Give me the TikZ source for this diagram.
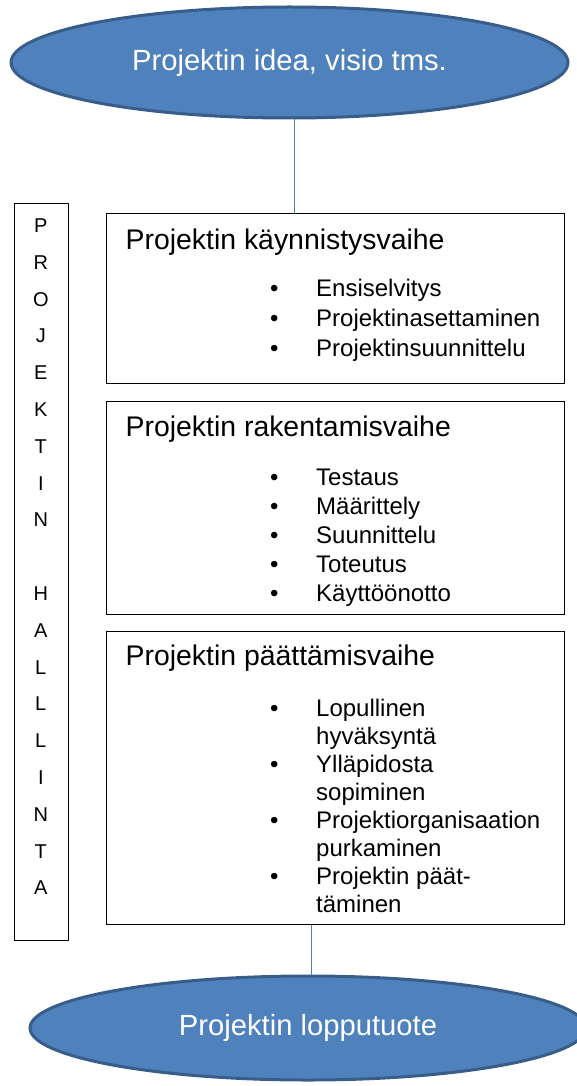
\documentclass[tikz,border=0pt]{standalone}
\usepackage{fontspec}
\setmainfont{Liberation Sans}
\usepackage{xcolor}
\usepackage{tikz}
\usetikzlibrary{shapes}

\definecolor{ovalfill}{HTML}{4F81BD}
\definecolor{ovalline}{HTML}{385D8A}

\newcommand{\bul}{\textbullet}

\begin{document}
\begin{tikzpicture}[x=1pt,y=-1pt,
	oval/.style={ellipse, fill=ovalfill, draw=ovalline, line width=3pt, text=white, inner sep=0pt, font=\fontsize{29.2}{35}\selectfont},
	phase/.style={draw, line width=0.9pt, minimum width=458pt, inner sep=0pt, anchor=north west},
	phasetitle/.style={anchor=base west, inner sep=0pt, font=\fontsize{28.4}{34}\selectfont},
	tasks/.style={anchor=base west, inner sep=0pt},
	link/.style={draw=ovalfill, line width=1pt},
	letter/.style={anchor=base, inner sep=0pt, font=\fontsize{20}{24}\selectfont}]
	\useasboundingbox (0,0) rectangle (576,1086);

	% idea and end product
	\node[oval, minimum width=557pt, minimum height=111pt] (idea) at (289.5,62.5) {Projektin idea, visio tms.};
	\node[oval, minimum width=556pt, minimum height=104pt] (lop) at (308,1028) {Projektin lopputuote};

	% project management column
	\node[draw, line width=0.9pt, minimum width=54.4pt, minimum height=737pt, inner sep=0pt, anchor=north west] (hallinta) at (13.6,203) {};
	\foreach \ch [count=\i from 0] in {P,R,O,J,E,K,T,I,N}
		\node[letter] (p\i) at (40.8,{232.5+36.8*\i}) {\ch};
	\foreach \ch [count=\i from 10] in {H,A,L,L,L,I,N,T,A}
		\node[letter] (h\i) at (40.8,{232.5+36.8*\i}) {\ch};

	% phases
	\node[phase, minimum height=170pt] (kayn) at (106,213) {};
	\node[phasetitle] (kaynt) at (125.5,249) {Projektin käynnistysvaihe};
	\node[tasks, font=\fontsize{24}{30}\selectfont] (kaynl) at (270,296) {\begin{tabular}[t]{@{}p{46pt}@{}l@{}}
		\bul & Ensiselvitys\\
		\bul & Projektinasettaminen\\
		\bul & Projektinsuunnittelu
	\end{tabular}};

	\node[phase, minimum height=213pt] (rak) at (106,401) {};
	\node[phasetitle] (rakt) at (125.5,436.5) {Projektin rakentamisvaihe};
	\node[tasks, font=\fontsize{24}{29}\selectfont] (rakl) at (270,485) {\begin{tabular}[t]{@{}p{46pt}@{}l@{}}
		\bul & Testaus\\
		\bul & Määrittely\\
		\bul & Suunnittelu\\
		\bul & Toteutus\\
		\bul & Käyttöönotto
	\end{tabular}};

	\node[phase, minimum height=293pt] (paat) at (106,631) {};
	\node[phasetitle] (paatt) at (125.5,665.5) {Projektin päättämisvaihe};
	\node[tasks, font=\fontsize{24}{28.1}\selectfont] (paatl) at (270,716) {\begin{tabular}[t]{@{}p{46pt}@{}l@{}}
		\bul & Lopullinen\\
		     & hyväksyntä\\
		\bul & Ylläpidosta\\
		     & sopiminen\\
		\bul & Projektiorganisaation\\
		     & purkaminen\\
		\bul & Projektin päät-\\
		     & täminen
	\end{tabular}};

	% connectors
	\path[link] ([xshift=4.5pt]idea.south) -- ([xshift=4.5pt]idea.south |- kayn.north);
	\path[link] ([xshift=3pt]lop.north |- paat.south) -- ([xshift=3pt]lop.north);
\end{tikzpicture}
\end{document}
